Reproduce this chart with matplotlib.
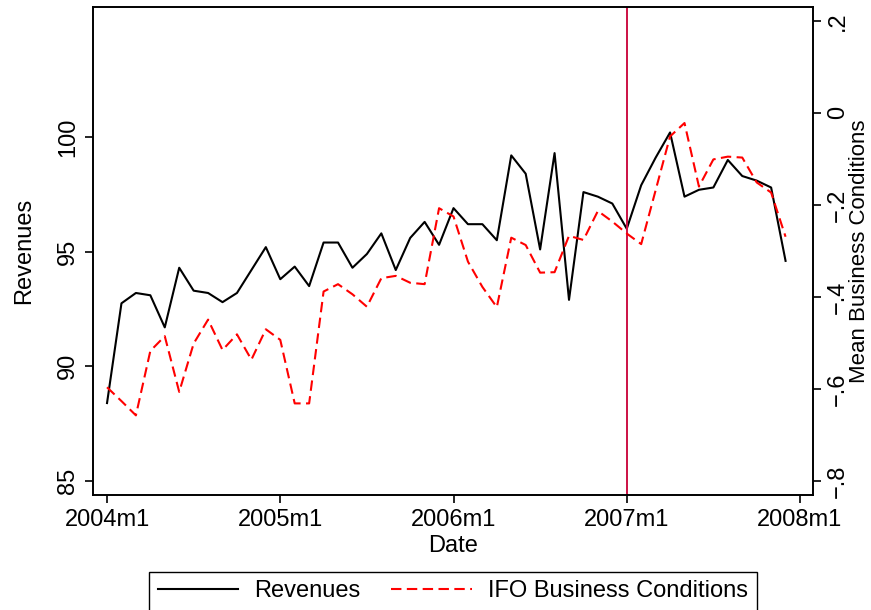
import numpy as np
from matplotlib import pyplot as plt

plt.rcParams['font.family'] = ['Liberation Sans', 'DejaVu Sans']

# meses desde 2004m1 hasta 2007m12
meses = np.arange(48)

revenues = [88.4, 92.75, 93.2, 93.1, 91.7, 94.3, 93.3, 93.2, 92.8, 93.2, 94.2, 95.2,
            93.8, 94.35, 93.5, 95.4, 95.4, 94.3, 94.9, 95.8, 94.2, 95.6, 96.3, 95.3,
            96.9, 96.2, 96.2, 95.5, 99.2, 98.4, 95.1, 99.3, 92.9, 97.6, 97.4, 97.1,
            96.0, 97.9, 99.1, 100.2, 97.4, 97.7, 97.8, 99.0, 98.3, 98.1, 97.8, 94.6]

ifo = [-0.596, -0.626, -0.657, -0.517, -0.485, -0.606, -0.501, -0.449, -0.515, -0.481,
       -0.536, -0.470, -0.493, -0.631, -0.631, -0.388, -0.372, -0.394, -0.421, -0.359,
       -0.354, -0.369, -0.372, -0.207, -0.225, -0.323, -0.378, -0.422, -0.271, -0.287,
       -0.347, -0.346, -0.267, -0.276, -0.213, -0.236, -0.262, -0.285, -0.168, -0.051,
       -0.022, -0.160, -0.101, -0.095, -0.097, -0.151, -0.173, -0.269]

xticks = [0, 12, 24, 36, 48]
xlabels = ['2004m1', '2005m1', '2006m1', '2007m1', '2008m1']
rev_ticks = [85, 90, 95, 100]
ifo_ticks = [-0.8, -0.6, -0.4, -0.2, 0, 0.2]
ifo_labels = ['\u2212.8', '\u2212.6', '\u2212.4', '\u2212.2', '0', '.2']
linea_vertical = 36  # 2007m1

fs = 17
fig, ax = plt.subplots(figsize=(8.71, 6.10), dpi=100)
plt.subplots_adjust(left=0.1068, right=0.9334, top=0.9885, bottom=0.1885)
ax2 = ax.twinx()

l1, = ax.plot(meses, revenues, color='black', linewidth=1.5)
l2, = ax2.plot(meses, ifo, color='red', linewidth=1.5, dashes=(5, 2.6))
ax.axvline(linea_vertical, color='#cc1144', linewidth=1.4)

ax.set_xlim(-0.97, 48.9)
ax.set_ylim(84.39, 105.67)
ax2.set_ylim(-0.830, 0.230)

ax.set_xticks(xticks)
ax.set_xticklabels(xlabels, fontsize=fs)
ax.set_yticks(rev_ticks)
ax.set_yticklabels([str(t) for t in rev_ticks], fontsize=fs, rotation=90, va='center')
ax2.set_yticks(ifo_ticks)
ax2.set_yticklabels(ifo_labels, fontsize=fs, rotation=90, va='center')

for a in (ax, ax2):
    a.tick_params(direction='out', length=6, width=1.2, pad=4)
    for s in a.spines.values():
        s.set_linewidth(1.2)

ax.set_xlabel('Date', fontsize=fs, labelpad=3)
ax.set_ylabel('Revenues', fontsize=fs)
ax.yaxis.set_label_coords(-0.081, 0.5)
ax2.set_ylabel('Mean Business Conditions', fontsize=16)
ax2.yaxis.set_label_coords(1.0505, 0.5)

fig.legend([l1, l2], ['Revenues', 'IFO Business Conditions'], loc='upper center',
           bbox_to_anchor=(453 / 871, 1 - 572 / 610), ncol=2, fontsize=fs,
           frameon=True, fancybox=False, edgecolor='black', handlelength=3.4,
           handletextpad=0.7, columnspacing=1.3, borderpad=0.35, borderaxespad=0,
           framealpha=1)

plt.savefig('out.png', dpi=100)
